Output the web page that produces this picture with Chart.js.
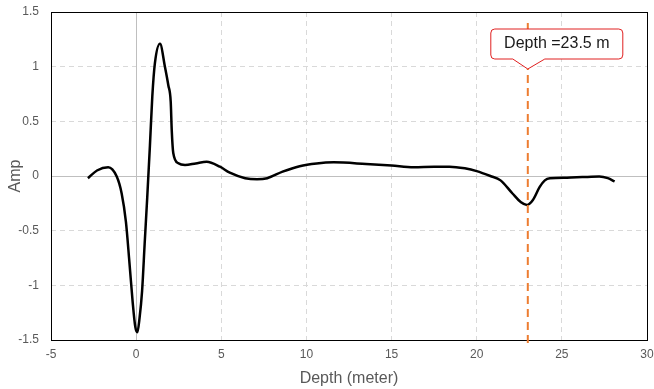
<!DOCTYPE html>
<html>
<head>
<meta charset="utf-8">
<script src="https://cdn.jsdelivr.net/npm/chart.js@4"></script>
<style>
html,body{margin:0;padding:0;background:#fff;}
#wrap{width:654px;height:389px;}
</style>
</head>
<body>
<div id="wrap"><canvas id="chart" width="654" height="389"></canvas></div>
<script>
// curve
const depth=[-2.83,-2.3,-1.64,-1.14,-0.85,-0.6,-0.4,-0.2,-0.05,0.07,0.2,0.35,0.5,0.65,0.81,0.95,1.1,1.4,1.69,1.89,2.03,2.09,2.18,2.48,2.87,3.5,4.14,4.92,5.5,6.4,7.1,7.7,8.6,9.6,10.6,11.6,13.5,15,16.3,17.5,18.4,19.3,20,20.8,21.4,22.1,22.6,22.95,23.3,23.7,24,24.3,25.3,26.2,27.2,27.7,28.1];
const amp=[-0.02,0.05,0.08,-0.005,-0.16,-0.42,-0.78,-1.16,-1.38,-1.43,-1.3,-1.05,-0.62,-0.2,0.28,0.73,1.03,1.21,1.0,0.83,0.68,0.42,0.21,0.116,0.1,0.115,0.13,0.085,0.03,-0.02,-0.03,-0.02,0.04,0.09,0.115,0.125,0.11,0.095,0.08,0.085,0.085,0.07,0.045,0,-0.04,-0.16,-0.24,-0.265,-0.22,-0.1,-0.04,-0.02,-0.015,-0.01,-0.005,-0.02,-0.05];

const markDepth=23;
const markAmp=[1.4,-1.57];
const markLabel="Depth =23.5 m";

const xTitle="Depth (meter)";
const yTitle="Amp";

const curvePts=depth.map((d,i)=>({x:d,y:amp[i]}));
const markPts=markAmp.map(a=>({x:markDepth,y:a}));

const frame={
  id:"frame",
  beforeDatasetsDraw(chart){
    const {ctx,chartArea:a,scales:{x,y}}=chart;
    ctx.save();
    ctx.strokeStyle="#bfbfbf";
    ctx.lineWidth=1;
    ctx.beginPath();
    const y0=Math.round(y.getPixelForValue(0))+0.5;
    const x0=Math.round(x.getPixelForValue(0))+0.5;
    ctx.moveTo(a.left,y0);ctx.lineTo(a.right,y0);
    ctx.moveTo(x0,a.top);ctx.lineTo(x0,a.bottom);
    ctx.stroke();
    ctx.strokeStyle="#000";
    ctx.strokeRect(Math.round(a.left)+0.5,Math.round(a.top)+0.5,Math.round(a.right-a.left),Math.round(a.bottom-a.top));
    ctx.restore();
  },
  afterDraw(chart){
    const {ctx,scales:{x}}=chart;
    const px=x.getPixelForValue(markDepth);
    const l=px-37,r=px+95,t=29,b=59,tip=69,rad=4;
    ctx.save();
    ctx.beginPath();
    ctx.moveTo(l+rad,t);
    ctx.lineTo(r-rad,t);ctx.quadraticCurveTo(r,t,r,t+rad);
    ctx.lineTo(r,b-rad);ctx.quadraticCurveTo(r,b,r-rad,b);
    ctx.lineTo(px+17,b);ctx.lineTo(px,tip);ctx.lineTo(px-15,b);
    ctx.lineTo(l+rad,b);ctx.quadraticCurveTo(l,b,l,b-rad);
    ctx.lineTo(l,t+rad);ctx.quadraticCurveTo(l,t,l+rad,t);
    ctx.closePath();
    ctx.fillStyle="#fff";
    ctx.fill();
    ctx.strokeStyle="#e02020";
    ctx.lineWidth=1;
    ctx.stroke();
    ctx.fillStyle="#1a1a1a";
    ctx.font="16px 'Liberation Sans', Arial, sans-serif";
    ctx.textAlign="center";
    ctx.textBaseline="middle";
    ctx.fillText(markLabel,(l+r)/2,(t+b)/2);
    ctx.restore();
  }
};

const tickFont={family:"'Liberation Sans', Arial, sans-serif",size:12};
const titleFont={family:"'Liberation Sans', Arial, sans-serif",size:16};

new Chart(document.getElementById("chart"),{
  type:"scatter",
  data:{
    datasets:[{
      data:markPts,
      showLine:true,
      borderColor:"#ED7D31",
      borderWidth:2,
      borderDash:[8,5],
      pointRadius:0,
      clip:false
    },{
      data:curvePts,
      showLine:true,
      borderColor:"#000",
      borderWidth:2.5,
      cubicInterpolationMode:"monotone",
      pointRadius:0
    }]
  },
  options:{
    responsive:false,
    animation:false,
    layout:{padding:{top:12,right:7,left:0,bottom:0}},
    plugins:{legend:{display:false},tooltip:{enabled:false}},
    scales:{
      x:{
        type:"linear",min:-5,max:30,
        afterFit:s=>{s.height=49;s.paddingLeft=0;s.paddingRight=0;},
        ticks:{stepSize:5,color:"#595959",font:tickFont,padding:7,callback:v=>String(v)},
        grid:{color:"#d9d9d9",drawTicks:false},
        border:{display:false,dash:[5,4]},
        title:{display:true,text:xTitle,color:"#595959",font:titleFont,padding:{top:0,bottom:1}}
      },
      y:{
        type:"linear",min:-1.5,max:1.5,
        afterFit:s=>{s.width=51;s.paddingTop=0;s.paddingBottom=0;},
        ticks:{stepSize:0.5,color:"#595959",font:tickFont,padding:12,callback:v=>String(v)},
        grid:{color:"#d9d9d9",drawTicks:false},
        border:{display:false,dash:[5,4]},
        title:{display:true,text:yTitle,color:"#595959",font:titleFont,padding:{top:6,bottom:0}}
      }
    }
  },
  plugins:[frame]
});
</script>
</body>
</html>
